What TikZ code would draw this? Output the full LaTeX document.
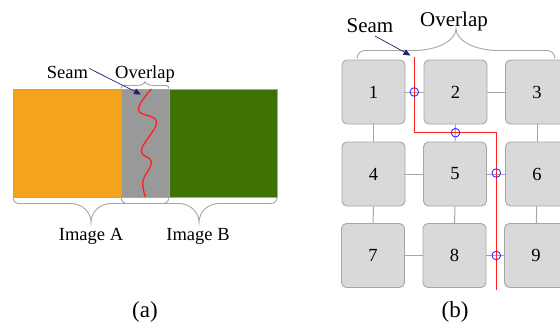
\documentclass[tikz,border=0pt]{standalone}
\usepackage{fontspec}
\setmainfont{Liberation Serif}
\usetikzlibrary{arrows.meta}

\definecolor{imgA}{HTML}{F4A41C}
\definecolor{imgB}{HTML}{407000}
\definecolor{ovl}{HTML}{999999}
\definecolor{edge}{HTML}{A6A6A6}
\definecolor{tile}{HTML}{D9D9D9}
\definecolor{navy}{HTML}{1F1F6E}
\definecolor{seamred}{HTML}{FF2020}
\definecolor{cross}{HTML}{3030FF}

% curly brace: x1, x2, y, direction (+1 down / -1 up), corner, tip height, tip width
\newcommand{\curlybrace}[7]{%
  \draw[bracestyle]
    ({#1},{#3}) .. controls ({#1},{#3+#4*0.55*#5}) and ({#1+0.45*#5},{#3+#4*#5}) .. ({#1+#5},{#3+#4*#5})
    -- ({(#1+#2)/2-#7},{#3+#4*#5})
    .. controls ({(#1+#2)/2-0.45*#7},{#3+#4*#5}) and ({(#1+#2)/2},{#3+#4*(#5+0.45*#6)}) .. ({(#1+#2)/2},{#3+#4*(#5+#6)})
    .. controls ({(#1+#2)/2},{#3+#4*(#5+0.45*#6)}) and ({(#1+#2)/2+0.45*#7},{#3+#4*#5}) .. ({(#1+#2)/2+#7},{#3+#4*#5})
    -- ({#2-#5},{#3+#4*#5})
    .. controls ({#2-0.45*#5},{#3+#4*#5}) and ({#2},{#3+#4*0.55*#5}) .. ({#2},{#3});}

\begin{document}
\begin{tikzpicture}[x=1pt,y=-1pt,
  bracestyle/.style={draw=edge,line width=0.9pt},
  label/.style={font=\fontsize{18.5}{20}\selectfont,inner sep=0pt,anchor=base},
  biglabel/.style={font=\fontsize{21}{24}\selectfont,inner sep=0pt,anchor=base},
  caption/.style={font=\fontsize{23}{26}\selectfont,inner sep=0pt,anchor=base},
  band/.style={draw=edge,line width=0.6pt,inner sep=0pt,minimum height=108pt},
  tilebox/.style={draw=edge,fill=tile,rounded corners=5pt,line width=0.9pt,
    minimum width=63pt,minimum height=64pt,inner sep=0pt,font=\fontsize{18.5}{20}\selectfont},
  link/.style={draw=edge,line width=1pt},
  seam/.style={draw=seamred,line width=1.3pt},
  pointer/.style={draw=navy,line width=0.7pt,-{Triangle[length=7pt,width=6pt]}},
  crossing/.style={circle,draw=cross,line width=0.9pt,minimum size=8.6pt,inner sep=0pt}]
\useasboundingbox (0,0) rectangle (560,324);
\clip (0,0) rectangle (560,324);

% ---------- (a) two overlapping images ----------
\node[band,fill=imgA,minimum width=108pt] (A) at (67,143) {};
\node[band,fill=ovl,minimum width=48pt] (O) at (145,143) {};
\node[band,fill=imgB,minimum width=108pt] (B) at (223,143) {};

\draw[seam] plot[smooth,tension=0.7] coordinates
  {(151.5,89) (138.5,110) (156.5,122) (141.5,150) (151.5,162) (143,181) (145.5,197)};

\curlybrace{121}{169}{88.5}{-1}{3}{4}{9}
\curlybrace{13}{169}{197.5}{1}{6}{19}{20}
\curlybrace{121}{277}{197.5}{1}{6}{19}{20}

\node[label] (seamA) at (67.5,78) {Seam};
\node[label] (ovlA) at (145,78) {Overlap};
\coordinate (seamAtip) at (141,94.5);
\draw[pointer] (seamA.east) ++(1,-3.5) coordinate (seamAstart) -- (seamAtip);

\node[label] (imgAlab) at (91,240.5) {Image A};
\node[label] (imgBlab) at (198,240.5) {Image B};
\node[caption] (capA) at (145,317) {(a)};

% ---------- (b) grid of tiles with a seam path ----------
\foreach \n/\x/\y in {1/373.5/92, 2/455.5/92, 3/537/92,
                      4/373.5/174, 5/455/174, 6/537/174,
                      7/373/255.5, 8/454.5/255.5, 9/536/255.5}
  \node[tilebox] (t\n) at (\x,\y) {\n};

\foreach \a/\b in {t1/t2, t2/t3, t4/t5, t5/t6, t7/t8, t8/t9,
                   t1/t4, t2/t5, t3/t6, t4/t7, t5/t8, t6/t9}
  \draw[link] (\a) -- (\b);

\coordinate (s0) at (414.3,57.3);
\coordinate (s1) at (414.3,132.7);
\coordinate (s2) at (496.3,132.7);
\coordinate (s3) at (496.3,290);
\draw[seam] (s0) -- (s1) -- (s2) -- (s3);

\node[crossing] (c12) at (414.3,92) {};
\node[crossing] (c25) at (455.5,132.7) {};
\node[crossing] (c56) at (496.3,173) {};
\node[crossing] (c89) at (496.3,255.5) {};

\curlybrace{357}{555}{58.5}{-1}{8}{22}{42}

\node[biglabel] (seamB) at (370,32.5) {Seam};
\node[biglabel] (ovlB) at (454,26) {Overlap};
\coordinate (seamBstart) at (375,36);
\coordinate (seamBtip) at (410.5,55.5);
\draw[pointer] (seamBstart) -- (seamBtip);

\node[caption] (capB) at (455,317) {(b)};
\end{tikzpicture}
\end{document}
